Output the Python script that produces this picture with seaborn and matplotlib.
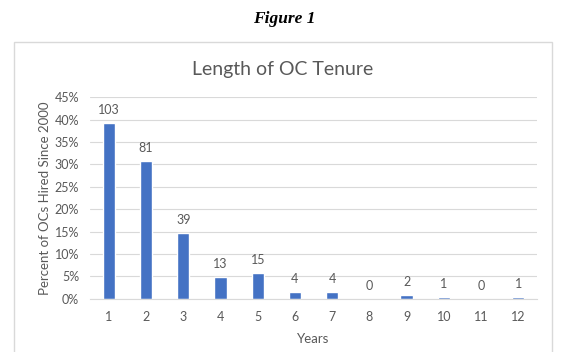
import matplotlib

matplotlib.use("Agg")
import matplotlib.pyplot as plt
import seaborn as sns
from matplotlib.patches import Rectangle
from matplotlib.ticker import PercentFormatter
from pandas import DataFrame

years = ["1", "2", "3", "4", "5", "6", "7", "8", "9", "10", "11", "12"]
counts = [103, 81, 39, 13, 15, 4, 4, 0, 2, 1, 0, 1]
percent = [39.2, 30.8, 14.8, 4.9, 5.7, 1.5, 1.5, 0.0, 0.8, 0.4, 0.0, 0.4]

GRAY = "#595959"
BLUE = "#4472C4"


def tenure_plot(data):
    sns.set_style("white")
    plt.rcParams["font.family"] = ["Lato", "DejaVu Sans"]

    fig = plt.figure(figsize=(5.68, 3.52), dpi=100)
    ax = fig.add_axes([0.159, 0.151, 0.786, 0.573])

    # chart frame like the Excel chart area
    fig.patches.append(
        Rectangle((14 / 568, -0.01), 538 / 568, 1 - 42 / 352 + 0.01,
                  transform=fig.transFigure, fill=False,
                  edgecolor="#D9D9D9", linewidth=1)
    )

    sns.barplot(data=data, x="year", y="pct", color=BLUE, width=0.33,
                saturation=1, ax=ax)
    ax.bar_label(ax.containers[0], labels=[str(c) for c in counts],
                 padding=5, fontsize=9, color=GRAY)

    ax.set_ylim(0, 45)
    ax.set_xlim(-0.5, 11.5)
    ax.set_yticks(range(0, 46, 5))
    ax.yaxis.set_major_formatter(PercentFormatter(decimals=0))
    ax.yaxis.grid(True, color="#D9D9D9", linewidth=0.8)
    ax.set_axisbelow(True)
    for side in ["top", "right", "left"]:
        ax.spines[side].set_visible(False)
    ax.spines["bottom"].set_color("#D9D9D9")
    ax.tick_params(axis="both", length=0, labelsize=9, labelcolor=GRAY)
    ax.tick_params(axis="x", pad=9)
    ax.tick_params(axis="y", pad=8)

    ax.set_xlabel("Years", fontsize=9.5, color=GRAY, labelpad=7)
    ax.set_ylabel("Percent of OCs Hired Since 2000", fontsize=9.5, color=GRAY,
                  labelpad=3)
    fig.text(0.498, 1 - 69 / 352, "Length of OC Tenure", ha="center",
             va="center", fontsize=14, color=GRAY)
    fig.text(0.5, 1 - 19 / 352, "Figure 1", ha="center", va="center",
             fontsize=12.5, style="italic", fontweight="semibold",
             family=["Liberation Serif", "DejaVu Serif"], color="black")
    return fig


def main():
    data = DataFrame({"year": years, "pct": percent})
    fig = tenure_plot(data)
    fig.savefig("out.png", dpi=100)
    plt.close(fig)


if __name__ == "__main__":
    main()
